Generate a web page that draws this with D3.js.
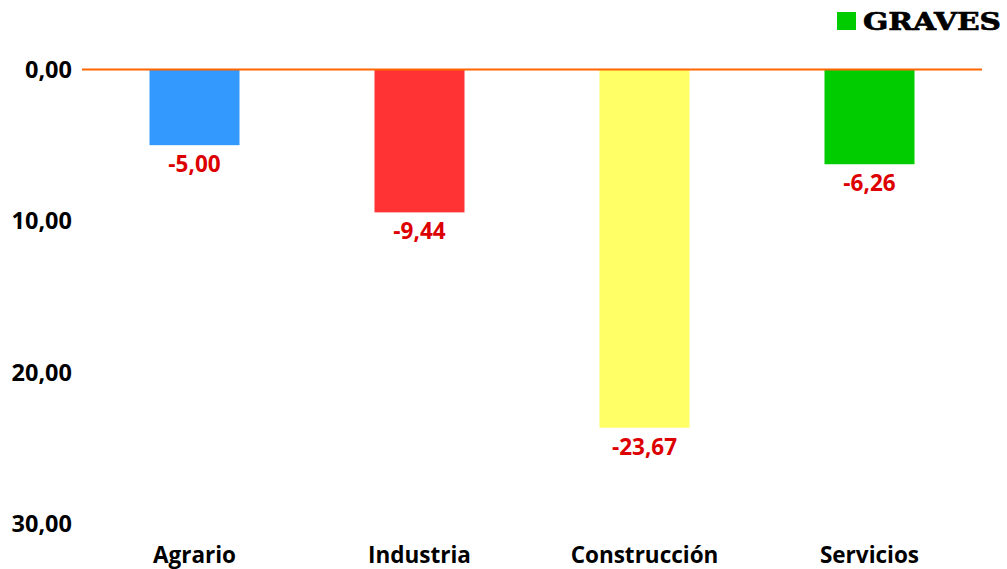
<!DOCTYPE html>
<html>
<head>
<meta charset="utf-8">
<script src="https://cdn.jsdelivr.net/npm/d3@7"></script>
<style>
  body { margin: 0; background: #fff; }
  .tick-label { font-family: "Open Sans", sans-serif; font-weight: bold; font-size: 23.5px; fill: #000; }
  .categoria { font-family: "Open Sans", sans-serif; font-weight: bold; font-size: 22.5px; fill: #000; }
  .valor { font-family: "Open Sans", sans-serif; font-weight: bold; font-size: 22.5px; fill: #dd0000; }
  .leyenda { font-family: "DejaVu Serif", serif; font-weight: bold; font-size: 25px; fill: #000; stroke: #000; stroke-width: 0.7px; }
</style>
</head>
<body>
<div id="chart"></div>
<script>
// Datos
const sectores = ["Agrario", "Industria", "Construcción", "Servicios"]
const valores = [-5.00, -9.44, -23.67, -6.26]
const colores = ["#3399ff", "#ff3333", "#ffff66", "#00cc00"]
const ticksY = [0, 10, 20, 30]
const serie = "GRAVES"

const width = 1007
const height = 569

const margin = { top: 69.5, bottom: 45.5, left: 82, right: 25 }

const svg = d3.select("#chart")
    .append("svg")
    .attr("width", width)
    .attr("height", height)

const x = d3.scaleBand()
    .domain(sectores)
    .range([margin.left, width - margin.right])
    .paddingInner(0.6)
    .paddingOuter(0.3)

// eje invertido: 0 arriba, 30 abajo
const y = d3.scaleLinear().domain([0, 30]).range([margin.top, height - margin.bottom])

// formato con coma decimal y guion normal
const fmt = v => d3.format(".2f")(v).replace(".", ",").replace("\u2212", "-")

// Etiquetas del eje Y
svg.append("g")
    .selectAll("text")
    .data(ticksY)
    .enter()
    .append("text")
    .attr("class", "tick-label")
    .attr("x", 72)
    .attr("y", d => y(d))
    .attr("dy", "0.36em")
    .attr("text-anchor", "end")
    .text(d => fmt(d))

// Barras
const datos = sectores.map((s, i) => ({ sector: s, valor: valores[i], color: colores[i] }))

svg.append("g")
    .selectAll("rect")
    .data(datos)
    .enter()
    .append("rect")
    .attr("x", d => x(d.sector))
    .attr("y", y(0))
    .attr("width", x.bandwidth())
    .attr("height", d => y(-d.valor) - y(0))
    .attr("fill", d => d.color)

// Línea del cero
svg.append("line")
    .attr("x1", margin.left)
    .attr("x2", width - margin.right)
    .attr("y1", y(0))
    .attr("y2", y(0))
    .attr("stroke", "#ff6600")
    .attr("stroke-width", 2)

// Valores
svg.append("g")
    .selectAll("text")
    .data(datos)
    .enter()
    .append("text")
    .attr("class", "valor")
    .attr("x", d => x(d.sector) + x.bandwidth() / 2)
    .attr("y", d => y(-d.valor) + 19)
    .attr("dy", "0.36em")
    .attr("text-anchor", "middle")
    .text(d => fmt(d.valor))

// Categorías
svg.append("g")
    .selectAll("text")
    .data(sectores)
    .enter()
    .append("text")
    .attr("class", "categoria")
    .attr("x", d => x(d) + x.bandwidth() / 2)
    .attr("y", 555)
    .attr("dy", "0.36em")
    .attr("text-anchor", "middle")
    .text(d => d)

// Leyenda
svg.append("rect")
    .attr("x", 837)
    .attr("y", 12)
    .attr("width", 19)
    .attr("height", 18)
    .attr("fill", "#00cc00")

svg.append("text")
    .attr("class", "leyenda")
    .attr("x", 863)
    .attr("y", 30)
    .attr("textLength", 138)
    .attr("lengthAdjust", "spacingAndGlyphs")
    .text(serie)
</script>
</body>
</html>
